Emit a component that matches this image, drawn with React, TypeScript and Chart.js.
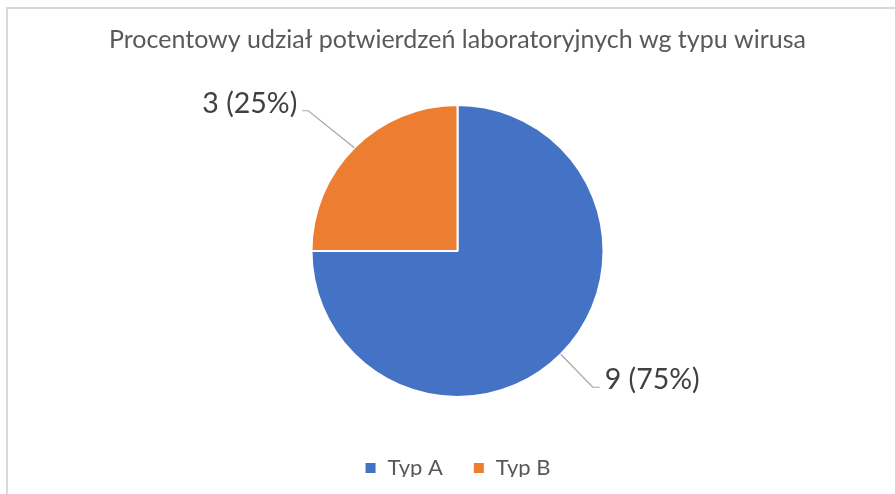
import React, { useEffect, useRef } from "react";
import { Chart, registerables } from "chart.js";

Chart.register(...registerables);

const chartTitle = "Procentowy udział potwierdzeń laboratoryjnych wg typu wirusa";
const categories = ["Typ A", "Typ B"];
const values = [9, 3];
const sliceColors = ["#4472C4", "#ED7D31"];

// leader-line elbow offsets (style), relative to each slice's outer edge midpoint
const leaderOffsets = [
  [32, 33],
  [-46, -37],
];

const FONT = "Lato";

export default function App() {
  const ref = useRef<HTMLCanvasElement>(null);

  useEffect(() => {
    document.body.style.margin = "0";
    const canvas = ref.current;
    if (!canvas) return;
    const total = values.reduce((a, b) => a + b, 0);

    const framePlugin = {
      id: "frame",
      beforeDraw(chart: any) {
        const ctx = chart.ctx;
        ctx.save();
        ctx.fillStyle = "#ffffff";
        ctx.fillRect(0, 0, chart.width, chart.height);
        ctx.strokeStyle = "#d9d9d9";
        ctx.lineWidth = 2;
        ctx.beginPath();
        ctx.moveTo(7, chart.height);
        ctx.lineTo(7, 8);
        ctx.lineTo(chart.width, 8);
        ctx.stroke();
        ctx.restore();
      },
    };

    const labelPlugin = {
      id: "sliceLabels",
      afterDatasetsDraw(chart: any) {
        const ctx = chart.ctx;
        const meta = chart.getDatasetMeta(0);
        ctx.save();
        meta.data.forEach((arc: any, i: number) => {
          const p = arc.getProps(["x", "y", "startAngle", "endAngle", "outerRadius"], true);
          const mid = (p.startAngle + p.endAngle) / 2;
          const cos = Math.cos(mid);
          const sin = Math.sin(mid);
          const ex = p.x + cos * p.outerRadius;
          const ey = p.y + sin * p.outerRadius;
          const [ox, oy] = leaderOffsets[i];
          const bx = ex + ox;
          const by = ey + oy;
          const right = cos >= 0;
          const hx = bx + (right ? 7 : -6);
          ctx.strokeStyle = "#a6a6a6";
          ctx.lineWidth = 1.2;
          ctx.beginPath();
          ctx.moveTo(ex, ey);
          ctx.lineTo(bx, by);
          ctx.lineTo(hx, by);
          ctx.stroke();
          const pct = Math.round((values[i] / total) * 100);
          const txt = `${values[i]} (${pct}%)`;
          ctx.fillStyle = "#404040";
          ctx.font = `28.5px ${FONT}`;
          ctx.textBaseline = "middle";
          ctx.textAlign = right ? "left" : "right";
          ctx.fillText(txt, hx + (right ? 5 : -5), by - 7);
        });
        ctx.restore();
      },
    };

    const chart = new Chart(canvas, {
      type: "pie",
      data: {
        labels: categories,
        datasets: [
          {
            data: values,
            backgroundColor: sliceColors,
            borderColor: "#ffffff",
            borderWidth: 2,
          },
        ],
      },
      options: {
        responsive: false,
        animation: false,
        radius: 146,
        layout: { padding: { left: 20, right: 0, top: 0, bottom: 17 } },
        plugins: {
          title: {
            display: true,
            text: chartTitle,
            color: "#595959",
            font: { family: FONT, size: 25, weight: "normal" },
            padding: { top: 25, bottom: 20 },
          },
          legend: {
            display: true,
            position: "bottom",
            maxHeight: 50,
            labels: {
              color: "#595959",
              font: { family: FONT, size: 22 },
              boxWidth: 12,
              boxHeight: 12,
              padding: 30,
            },
          },
          tooltip: { enabled: false },
        },
      } as any,
      plugins: [framePlugin, labelPlugin],
    });

    return () => chart.destroy();
  }, []);

  return (
    <div style={{ width: 895, height: 494 }}>
      <canvas ref={ref} width={895} height={494} />
    </div>
  );
}
